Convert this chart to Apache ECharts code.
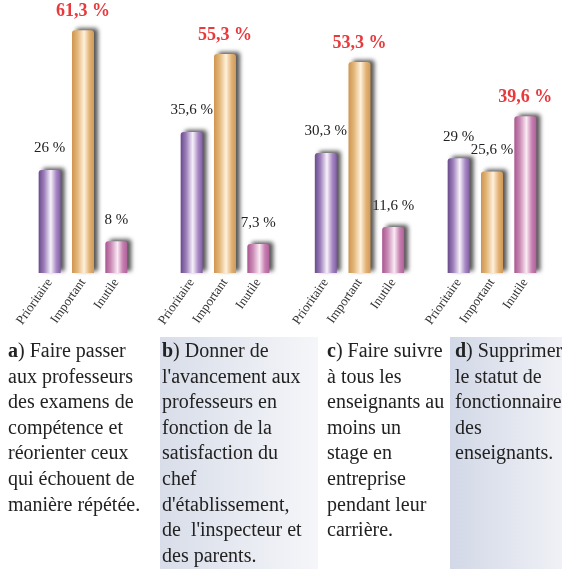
<!DOCTYPE html>
<html>
<head>
<meta charset="utf-8">
<script src="https://cdn.jsdelivr.net/npm/echarts@6/dist/echarts.min.js"></script>
<style>
html,body{margin:0;padding:0;background:#fff;}
#chart{width:562px;height:569px;}
</style>
</head>
<body>
<div id="chart"></div>
<script>
const categories = ['Prioritaire', 'Important', 'Inutile'];
const groupA = [26, 61.3, 8];
const groupB = [35.6, 55.3, 7.3];
const groupC = [30.3, 53.3, 11.6];
const groupD = [29, 25.6, 39.6];
const groups = [groupA, groupB, groupC, groupD];

const captionA = ['{b|a}) Faire passer', 'aux professeurs', 'des examens de', 'compétence et', 'réorienter ceux', 'qui échouent de', 'manière répétée.'];
const captionB = ['{b|b}) Donner de', "l'avancement aux", 'professeurs en', 'fonction de la', 'satisfaction du', 'chef', "d'établissement,", "de  l'inspecteur et", 'des parents.'];
const captionC = ['{b|c}) Faire suivre', 'à tous les', 'enseignants au', 'moins un', 'stage en', 'entreprise', 'pendant leur', 'carrière.'];
const captionD = ['{b|d}) Supprimer', 'le statut de', 'fonctionnaire', 'des', 'enseignants.'];
const captions = [captionA, captionB, captionC, captionD];

const serif = '"Liberation Serif", "DejaVu Serif", serif';

const barColors = [
  ['#6a4a8c', '#9d7fbb', '#f7f2fa', '#a888c4', '#7f5ea2'],
  ['#cf9550', '#e3b679', '#fff1dc', '#e2b174', '#d09a58'],
  ['#a9578f', '#c98ab5', '#fbeaf4', '#c67fb0', '#b0619a']
];
function grad(c) {
  return new echarts.graphic.LinearGradient(0, 0, 1, 0, [
    {offset: 0, color: c[0]}, {offset: 0.25, color: c[1]},
    {offset: 0.55, color: c[2]}, {offset: 0.8, color: c[3]}, {offset: 1, color: c[4]}
  ]);
}
function fmt(v) { return String(v).replace('.', ',') + ' %'; }

const gridLefts = [33, 175, 309, 442];
const gridWidths = [100, 100, 101, 100];
const grid = [], xAxis = [], yAxis = [], series = [];
groups.forEach((g, gi) => {
  grid.push({left: gridLefts[gi], width: gridWidths[gi], top: 15.6, bottom: 296});
  xAxis.push({
    type: 'category', gridIndex: gi, data: categories,
    axisLine: {show: false}, axisTick: {show: false},
    axisLabel: {interval: 0, rotate: 55, margin: 7, fontFamily: serif, fontSize: 13, color: '#333'}
  });
  yAxis.push({type: 'value', gridIndex: gi, min: 0, max: 65, show: false, splitLine: {show: false}});
  const mx = Math.max(...g);
  series.push({
    type: 'bar', xAxisIndex: gi, yAxisIndex: gi, barWidth: 22,
    data: g.map((v, i) => {
      const isMax = v === mx;
      return {
        value: v,
        itemStyle: {
          color: grad(barColors[i]), borderRadius: [3, 3, 0, 0],
          shadowColor: 'rgba(45,45,45,0.8)', shadowBlur: 4, shadowOffsetX: 4, shadowOffsetY: -2
        },
        label: {
          show: true, position: 'top', formatter: p => fmt(p.value),
          fontFamily: serif,
          fontSize: isMax ? 18 : 15,
          fontWeight: isMax ? 'bold' : 'normal',
          color: isMax ? '#e8393c' : '#222',
          distance: isMax ? 10 : 14
        }
      };
    })
  });
});

const captionX = [8, 162, 327, 455];
const graphic = [
  {type: 'rect', left: 160, top: 337, shape: {width: 158, height: 232},
   style: {fill: new echarts.graphic.LinearGradient(0, 0, 1, 0, [{offset: 0, color: '#d8dde9'}, {offset: 1, color: '#f5f6f9'}])}, z: 0},
  {type: 'rect', left: 450, top: 337, shape: {width: 112, height: 232},
   style: {fill: new echarts.graphic.LinearGradient(0, 0, 1, 0, [{offset: 0, color: '#d2d8e7'}, {offset: 1, color: '#f0f1f6'}])}, z: 0}
];
captions.forEach((c, i) => {
  graphic.push({
    type: 'text', left: captionX[i], top: 339, z: 2,
    style: {
      text: c.join('\n'), fontFamily: serif, fontSize: 20, lineHeight: 25.6, fill: '#222',
      rich: {b: {fontFamily: serif, fontSize: 20, lineHeight: 25.6, fontWeight: 'bold', fill: '#222'}}
    }
  });
});

const chart = echarts.init(document.getElementById('chart'));
chart.setOption({animation: false, grid, xAxis, yAxis, series, graphic});
</script>
</body>
</html>
